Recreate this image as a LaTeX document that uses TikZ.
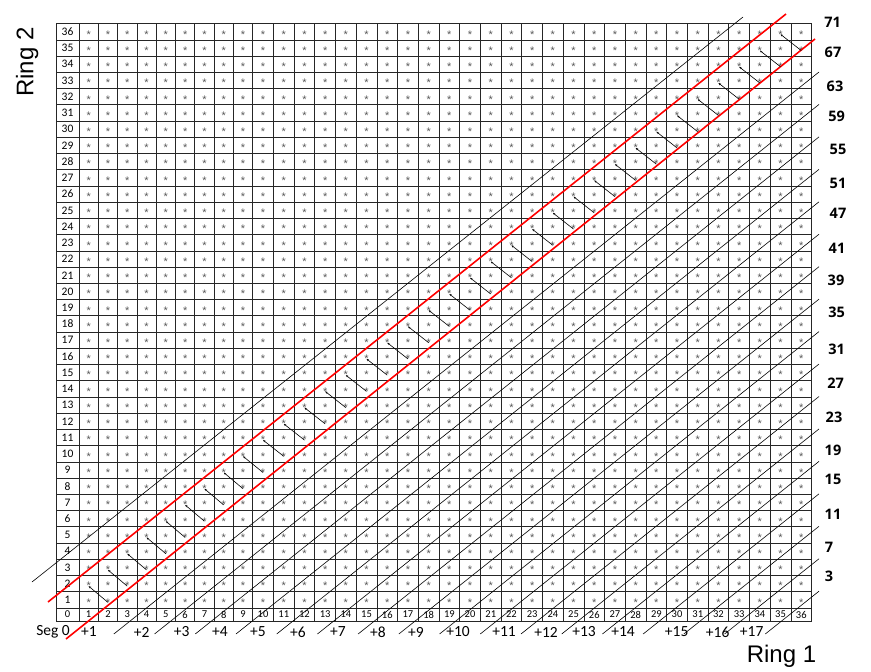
\documentclass[tikz,border=0pt]{standalone}
\usepackage{fontspec}
\setmainfont{Carlito}
\newfontfamily\ringfont{Liberation Sans}
\newfontfamily\numfont{Open Sans}
\usetikzlibrary{arrows.meta}
\begin{document}
\begin{tikzpicture}[x=1pt,y=-1pt,
  gridline/.style={draw=black!85,line width=0.8pt},
  astx/.style={inner sep=0pt,font=\ringfont\fontsize{11}{11}\selectfont,text=black!65},
  lab/.style={inner sep=0pt,font=\fontsize{11.5}{11.5}\selectfont},
  collab/.style={inner sep=0pt,font=\fontsize{10.5}{10.5}\selectfont},
  seglab/.style={inner sep=0pt,font=\fontsize{15.5}{15.5}\selectfont},
  ringlab/.style={inner sep=0pt,font=\ringfont\fontsize{24}{24}\selectfont},
  numlab/.style={inner sep=0pt,font=\numfont\bfseries\fontsize{14.5}{14.5}\selectfont},
  diag/.style={draw=black,line width=0.6pt},
  redl/.style={draw=red,line width=1.6pt},
  arr/.style={draw=black,line width=0.6pt,{Stealth[length=2.5pt,width=2pt]}-}
]
\useasboundingbox (0,0) rectangle (871,672);
\fill[white] (0,0) rectangle (871,672);
% grid
\draw[gridline] (56,23.7) -- (56,621);
\foreach \c in {1,...,10}{
  \draw[gridline] ({79+(\c-1)*19.3},23.7) -- ({79+(\c-1)*19.3},621);
}
\foreach \c in {11,...,37}{
  \draw[gridline] ({252.7+(\c-10)*20.7},23.7) -- ({252.7+(\c-10)*20.7},621);
}
\draw[gridline] (56,621) -- (811.6,621);
\foreach \k in {0,...,36}{
  \draw[gridline] (56,{608-16.23*\k}) -- (811.6,{608-16.23*\k});
}
% labels and stars
\node[collab] (c-0) at (67.5,614.5) {0};
\foreach \r in {1,...,36}{
  \node[lab] (r-\r) at (67.5,{616.1-16.23*\r}) {\r};
}
\foreach \c in {1,...,36}{
  \pgfmathsetmacro\cx{ifthenelse(\c<10,79+(\c-0.5)*19.3,252.7+(\c-9.5)*20.7)}
  \node[collab] (c-\c) at (\cx,614.5) {\c};
  \foreach \r in {1,...,36}{
    \node[astx] (s-\c-\r) at (\cx,{618.6-16.23*\r}) {*};
  }
}
% diagonal lines
\draw[diag] (32,582) -- (743,17);
\foreach \k in {0,...,16}{
  \pgfmathsetmacro\ye{72+32.45*\k}
  \pgfmathsetmacro\xs{819-(634-\ye)/0.797}
  \draw[diag] (\xs,634) -- (819,\ye);
}
\draw[redl] (48,602) -- (786,14);
\draw[redl] (66,639) -- (815,39);
% arrows
\foreach \c [evaluate=\c as \d using int(\c+1)] in {1,...,35}{
  \draw[arr] (s-\c-\d.center) -- (s-\d-\c.center);
}
% right labels
\foreach \v/\x/\y in {71/832.7/22.7,67/833/52.7,63/835/86.7,59/836.7/116,55/838/149,51/838/183,47/838/213,41/837/248,39/836/280,35/836.7/312.7,31/836.7/349,27/835.7/383,23/834/417,19/833/450,15/833/479,11/833/514,7/829/547,3/829/576}{
  \node[numlab] (n-\v) at (\x,\y) {\v};
}
% bottom labels
\foreach \t/\x [count=\i] in {Seg 0/53,+1/89,+2/141.7,+3/181.7,+4/220,+5/258,+6/298,+7/338,+8/378,+9/416,+10/458,+11/504,+12/546,+13/584,+14/623,+15/676.7,+16/717.7,+17/751.7}{
  \node[seglab] (b-\i) at (\x,632) {\t};
}
\node[ringlab,anchor=base] (ring1) at (781.5,662.7) {Ring 1};
\node[ringlab,rotate=90,anchor=base] (ring2) at (33.3,62) {Ring 2};
\end{tikzpicture}
\end{document}
